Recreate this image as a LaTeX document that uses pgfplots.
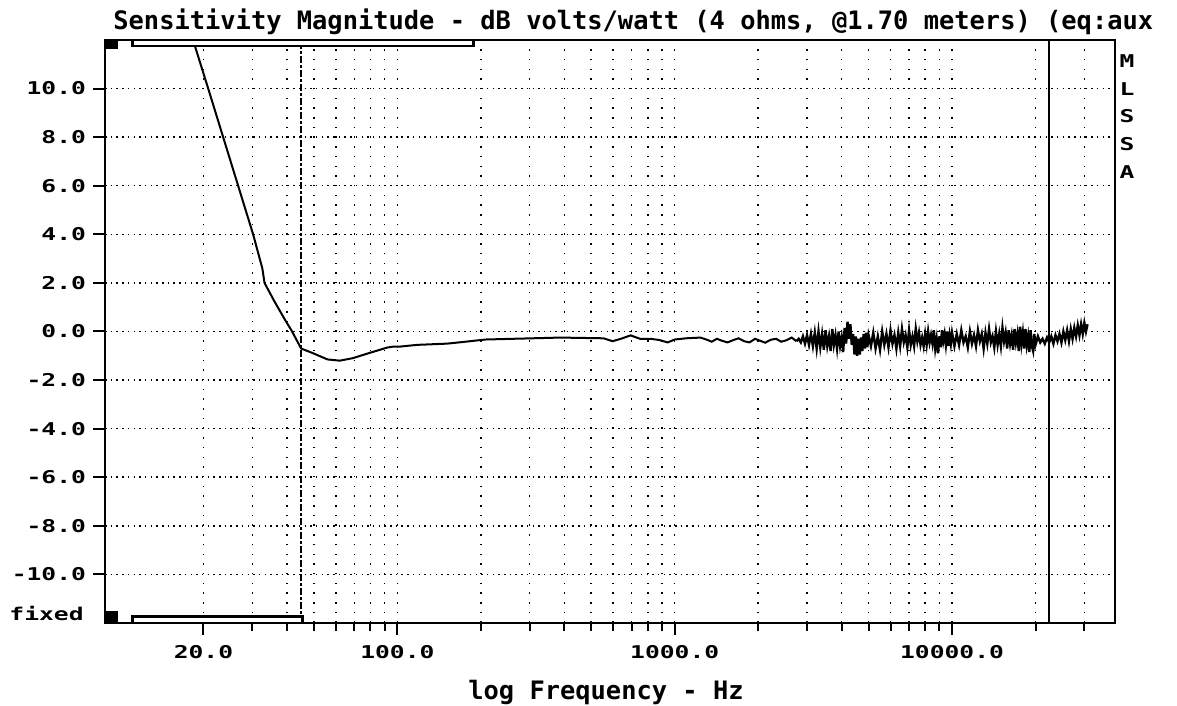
\documentclass[border=0pt]{standalone}
\usepackage{fontspec}
\usepackage{pgfplots}
\pgfplotsset{compat=1.18}
\newfontfamily\monofont{DejaVu Sans Mono}
\newfontfamily\widefont[FakeStretch=1.4]{DejaVu Sans Mono}
\newcommand\titlefont{\monofont\bfseries\fontsize{12.7}{14}\selectfont}
\newcommand\tickfont{\widefont\bfseries\fontsize{8.8}{10}\selectfont}

\begin{document}
\begin{tikzpicture}[x=0.5pt,y=0.5pt]
% one unit = one pixel of the 1177x706 reference
\path[use as bounding box] (0,0) rectangle (1177,706);
\begin{axis}[
  at={(52.5pt,41.5pt)}, anchor=south west,
  scale only axis, width=505pt, height=291.5pt,
  xmode=log, xmin=8.83, xmax=38700, ymin=-12, ymax=12,
  clip=false,
  axis line style={black,line width=1pt},
  tick pos=left, tick align=outside,
  major tick length=6pt, minor tick length=4pt,
  every tick/.style={black,line width=1pt},
  xtick={20,100,1000,10000},
  xticklabels={20.0,100.0,1000.0,10000.0},
  minor xtick={30,40,50,60,70,80,90,200,300,400,500,600,700,800,900,
               2000,3000,4000,5000,6000,7000,8000,9000,20000,30000},
  ytick={-10,-8,...,10},
  yticklabels={-10.0,-8.0,-6.0,-4.0,-2.0,0.0,2.0,4.0,6.0,8.0,10.0},
  ticklabel style={font=\tickfont},
  xticklabel style={yshift=-1.5pt},
  xmajorgrids, xminorgrids, ymajorgrids,
  major grid style={black,line width=0.75pt},
  minor grid style={black,line width=0.75pt},
  x grid style={dash pattern=on 0.75pt off 4.1pt},
  y grid style={dash pattern=on 0.75pt off 2.1pt},
]
% measured response, low end and midband
\addplot[black,line width=1pt] coordinates {
  (18.34,12.0) (20.8,10.0) (23.55,8.0) (26.67,6.0) (30.2,4.0) (32.6,2.6)
  (33.2,2.0) (36.0,1.25) (39.5,0.45) (41.5,0.05) (45.0,-0.7) (49.8,-0.9)
  (56,-1.15) (62,-1.2) (69,-1.1) (80,-0.87) (92,-0.66) (97,-0.62)
  (102.5,-0.62) (118,-0.55) (151,-0.5) (173,-0.43) (208,-0.33) (387,-0.25)
  (554,-0.28) (597,-0.4) (640,-0.3) (693,-0.16) (750,-0.3) (818,-0.3)
  (880,-0.35) (943,-0.45) (1000,-0.33) (1100,-0.28) (1239,-0.25)
  (1300,-0.33) (1360,-0.42) (1420,-0.3) (1480,-0.38) (1550,-0.45)
  (1630,-0.35) (1700,-0.28) (1780,-0.4) (1860,-0.45) (1950,-0.3)
  (2030,-0.38) (2120,-0.46) (2220,-0.34) (2320,-0.3) (2420,-0.42)
  (2530,-0.36) (2640,-0.25) (2750,-0.4)
};
% top octaves, where the measurement gets noisy
\addplot[black,line width=1.2pt] coordinates {
  (2750,-0.4) (2800,-0.30) (2850,-0.45) (2900,-0.20) (2950,-0.50) (3000,-0.15)
  (3050,-0.55) (3100,-0.10) (3150,-0.60) (3200,-0.05) (3250,-0.70) (3300,0.00)
  (3350,-0.65) (3400,-0.10) (3450,-0.75) (3500,0.05) (3550,-0.60) (3600,-0.20)
  (3650,-0.80) (3700,0.10) (3750,-0.55) (3800,-0.15) (3850,-0.70) (3900,0.00)
  (3950,-0.60) (4000,-0.25) (4050,-0.85) (4100,0.15) (4150,-0.50) (4200,0.40)
  (4250,-0.30) (4300,0.30) (4350,-0.55) (4400,-0.10) (4450,-0.95) (4500,-0.20)
  (4550,-1.00) (4600,-0.30) (4650,-0.95) (4700,-0.25) (4750,-0.80) (4800,-0.10)
  (4850,-0.70) (4900,-0.05) (4950,-0.65) (5000,-0.15)
  (5100,-0.60) (5200,-0.05) (5300,-0.70) (5400,-0.20) (5500,-0.75) (5600,0.00)
  (5700,-0.55) (5800,-0.10) (5900,-0.65) (6000,0.05) (6100,-0.50) (6200,-0.15)
  (6300,-0.70) (6400,-0.05) (6500,-0.60) (6600,0.10) (6700,-0.45) (6800,-0.15)
  (6900,-0.65) (7000,0.05) (7100,-0.55) (7200,-0.20) (7300,-0.60) (7400,0.10)
  (7500,-0.40) (7600,-0.05) (7700,-0.55) (7800,-0.25) (7900,-0.60) (8000,-0.10)
  (8100,-0.55) (8200,0.00) (8300,-0.45) (8400,-0.15) (8500,-0.50) (8600,0.05)
  (8700,-0.70) (8800,-0.30) (8900,-0.90) (9000,-0.20) (9100,-0.65) (9200,0.05)
  (9300,-0.40) (9400,-0.10) (9500,-0.55) (9600,0.00) (9700,-0.60) (9800,-0.15)
  (9900,-0.50) (10000,-0.05)
  (10200,-0.60) (10400,-0.10) (10600,-0.55) (10800,0.05) (11000,-0.45)
  (11200,-0.20) (11400,-0.65) (11600,0.00) (11800,-0.50) (12000,-0.15)
  (12200,-0.60) (12400,0.05) (12600,-0.40) (12800,-0.10) (13000,-0.70)
  (13200,-0.05) (13400,-0.50) (13600,0.10) (13800,-0.45) (14000,-0.20)
  (14200,-0.65) (14400,0.00) (14600,-0.55) (14800,-0.10) (15000,-0.60)
  (15200,0.15) (15400,-0.40) (15600,-0.05) (15800,-0.70) (16000,0.05)
  (16200,-0.50) (16400,-0.15) (16600,-0.75) (16800,0.10) (17000,-0.45)
  (17200,-0.10) (17400,-0.80) (17600,0.20) (17800,-0.50) (18000,-0.05)
  (18200,-0.70) (18400,0.10) (18600,-0.55) (18800,-0.20) (19000,-0.85)
  (19200,0.05) (19400,-0.60) (19600,-0.80) (19800,-0.10) (20000,-0.55)
  (20400,-0.20) (20800,-0.45) (21200,-0.30) (21600,-0.50) (22000,-0.25)
  (22400,-0.45) (22800,-0.20) (23200,-0.50) (23600,-0.15) (24000,-0.40)
  (24400,-0.10) (24800,-0.45) (25200,0.00) (25600,-0.35) (26000,0.05)
  (26400,-0.40) (26800,0.10) (27200,-0.30) (27600,0.15) (28000,-0.20)
  (28400,0.25) (28800,-0.15) (29200,0.30) (29600,-0.10) (30000,0.35)
  (30400,0.00) (30800,0.30)
};
% cursors
\addplot[black,line width=1.1pt,dash pattern=on 3.5pt off 1pt on 1.5pt off 1pt]
  coordinates {(45,-12) (45,12)};
\addplot[black,line width=1pt] coordinates {(22400,-12) (22400,12)};
% range bars and corner blocks
\draw[black,line width=1.3pt,fill=white] (axis cs:11.1,11.76) rectangle (axis cs:188,12);
\draw[black,line width=1.3pt,fill=white] (axis cs:11.1,-12) rectangle (axis cs:45.4,-11.74);
\fill[black] (axis cs:8.83,11.62) rectangle (axis cs:9.84,12);
\fill[black] (axis cs:8.83,-12) rectangle (axis cs:9.84,-11.5);
\end{axis}
\node[anchor=base west,inner sep=0pt,font=\titlefont] at (113,676)
  {Sensitivity Magnitude - dB volts/watt (4 ohms, @1.70 meters) (eq:aux};
\node[anchor=base,inner sep=0pt,font=\titlefont] at (606,6) {log Frequency - Hz};
\node[anchor=base east,inner sep=0pt,font=\tickfont] at (84,85) {fixed};
\node[anchor=base,inner sep=0pt,font=\tickfont] at (1127,638) {M};
\node[anchor=base,inner sep=0pt,font=\tickfont] at (1127,610) {L};
\node[anchor=base,inner sep=0pt,font=\tickfont] at (1127,583) {S};
\node[anchor=base,inner sep=0pt,font=\tickfont] at (1127,555) {S};
\node[anchor=base,inner sep=0pt,font=\tickfont] at (1127,527) {A};
\end{tikzpicture}
\end{document}
